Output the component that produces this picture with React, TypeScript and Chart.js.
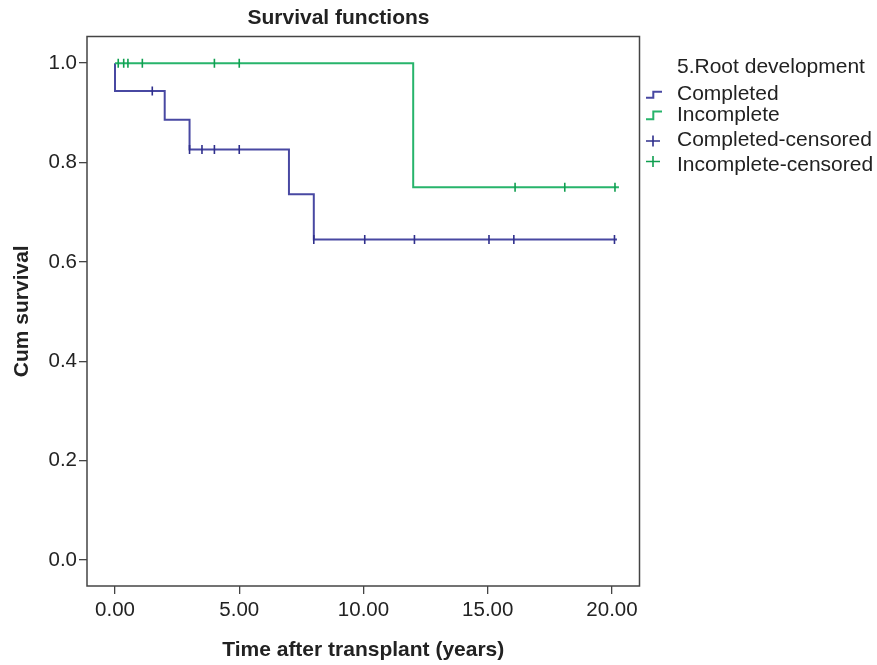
import React, { useEffect, useRef } from "react";
import { Chart, registerables } from "chart.js";

Chart.register(...registerables);

const FONT = "'Liberation Sans', Arial, Helvetica, sans-serif";

const chartTitle = "Survival functions";
const xAxisTitle = "Time after transplant (years)";
const yAxisTitle = "Cum survival";
const legendTitle = "5.Root development";
const seriesNames = ["Completed", "Incomplete", "Completed-censored", "Incomplete-censored"];

const xTicks = [0, 5, 10, 15, 20];
const yTicks = [0, 0.2, 0.4, 0.6, 0.8, 1.0];

// Kaplan-Meier step curves (time, cumulative survival)
const completedTimes = [0, 0, 2, 3, 7, 8, 20.2];
const completedSurvival = [1.0, 0.944, 0.886, 0.826, 0.736, 0.645, 0.645];
const incompleteTimes = [0, 12, 20.28];
const incompleteSurvival = [1.0, 0.75, 0.75];

// Censored observations
const completedCensoredTimes = [1.5, 3, 3.5, 4, 5, 8, 10.05, 12.05, 15.05, 16.05, 20.1];
const completedCensoredSurvival = [0.944, 0.826, 0.826, 0.826, 0.826, 0.645, 0.645, 0.645, 0.645, 0.645, 0.645];
const incompleteCensoredTimes = [0.13, 0.35, 0.52, 1.1, 4, 5, 16.1, 18.1, 20.12];
const incompleteCensoredSurvival = [1, 1, 1, 1, 1, 1, 0.75, 0.75, 0.75];

const blueLine = "#4848a2";
const blueMark = "#2f2f8c";
const greenLine = "#27b46b";
const greenMark = "#109f50";
const textColor = "#222222";
const frameColor = "#444444";

const toPoints = (xs: number[], ys: number[]) => xs.map((x, i) => ({ x, y: ys[i] }));

const framePlugin = {
  id: "frame",
  beforeDatasetsDraw(chart: any) {
    const { ctx, chartArea } = chart;
    ctx.save();
    ctx.strokeStyle = frameColor;
    ctx.lineWidth = 1.5;
    ctx.strokeRect(chartArea.left, chartArea.top, chartArea.right - chartArea.left, chartArea.bottom - chartArea.top);
    ctx.restore();
  },
};

const overlayPlugin = {
  id: "overlay",
  afterDraw(chart: any) {
    const { ctx } = chart;
    ctx.save();
    // title
    ctx.fillStyle = textColor;
    ctx.font = `bold 21px ${FONT}`;
    ctx.textAlign = "center";
    ctx.textBaseline = "alphabetic";
    ctx.fillText(chartTitle, 338.5, 24);

    // legend
    const lx = 677;
    ctx.textAlign = "left";
    ctx.font = `21px ${FONT}`;
    ctx.fillText(legendTitle, lx, 72.7);
    const baselines = [100, 120.7, 146, 170.7];
    seriesNames.forEach((name, i) => ctx.fillText(name, lx, baselines[i]));

    // step icons
    const stepIcon = (color: string, low: number, high: number) => {
      ctx.strokeStyle = color;
      ctx.lineWidth = 2;
      ctx.beginPath();
      ctx.moveTo(646, low);
      ctx.lineTo(653.3, low);
      ctx.lineTo(653.3, high);
      ctx.lineTo(662, high);
      ctx.stroke();
    };
    stepIcon(blueLine, 97.7, 91.7);
    stepIcon(greenLine, 119.3, 111.5);

    const plusIcon = (color: string, cy: number) => {
      ctx.strokeStyle = color;
      ctx.lineWidth = 1.6;
      ctx.beginPath();
      ctx.moveTo(646, cy);
      ctx.lineTo(660, cy);
      ctx.moveTo(653, cy - 5.5);
      ctx.lineTo(653, cy + 5.5);
      ctx.stroke();
    };
    plusIcon(blueMark, 141);
    plusIcon(greenMark, 161.5);
    ctx.restore();
  },
};

export default function App() {
  const canvasRef = useRef<HTMLCanvasElement | null>(null);

  useEffect(() => {
    if (!canvasRef.current) return;
    const chart = new Chart(canvasRef.current, {
      type: "line",
      data: {
        datasets: [
          {
            label: seriesNames[2],
            data: toPoints(completedCensoredTimes, completedCensoredSurvival),
            showLine: false,
            pointStyle: "line",
            rotation: 90,
            pointRadius: 4.5,
            pointHoverRadius: 4.5,
            borderColor: blueMark,
            backgroundColor: blueMark,
            borderWidth: 1.6,
          },
          {
            label: seriesNames[3],
            data: toPoints(incompleteCensoredTimes, incompleteCensoredSurvival),
            showLine: false,
            pointStyle: "line",
            rotation: 90,
            pointRadius: 4.5,
            pointHoverRadius: 4.5,
            borderColor: greenMark,
            backgroundColor: greenMark,
            borderWidth: 1.6,
          },
          {
            label: seriesNames[1],
            data: toPoints(incompleteTimes, incompleteSurvival),
            stepped: true,
            borderColor: greenLine,
            backgroundColor: greenLine,
            borderWidth: 2,
            pointRadius: 0,
            fill: false,
          },
          {
            label: seriesNames[0],
            data: toPoints(completedTimes, completedSurvival),
            stepped: true,
            borderColor: blueLine,
            backgroundColor: blueLine,
            borderWidth: 2,
            pointRadius: 0,
            fill: false,
          },
        ],
      },
      options: {
        animation: false,
        responsive: true,
        maintainAspectRatio: false,
        layout: { padding: { top: 36.5, right: 237.5, left: 0, bottom: 0 } },
        plugins: {
          legend: { display: false },
          title: { display: false },
          tooltip: { enabled: false },
        },
        scales: {
          x: {
            type: "linear",
            min: -1.127,
            max: 21.107,
            afterBuildTicks: (s: any) => {
              s.ticks = xTicks.map((v) => ({ value: v }));
            },
            afterFit: (s: any) => {
              s.height = 79;
            },
            ticks: {
              callback: (v: any) => Number(v).toFixed(2),
              font: { family: FONT, size: 20.5 },
              color: textColor,
              padding: 4,
              maxRotation: 0,
              autoSkip: false,
            },
            grid: { drawOnChartArea: false, drawTicks: true, tickLength: 8, color: frameColor, lineWidth: 1.3 },
            border: { display: false },
            title: {
              display: true,
              text: xAxisTitle,
              font: { family: FONT, size: 21, weight: "bold" },
              color: textColor,
              padding: { top: 0, bottom: 2.4 },
            },
          },
          y: {
            type: "linear",
            min: -0.0523,
            max: 1.0536,
            afterBuildTicks: (s: any) => {
              s.ticks = yTicks.map((v) => ({ value: v }));
            },
            afterFit: (s: any) => {
              s.width = 87;
            },
            ticks: {
              callback: (v: any) => Number(v).toFixed(1),
              font: { family: FONT, size: 20.5 },
              color: textColor,
              padding: 2,
              autoSkip: false,
            },
            grid: { drawOnChartArea: false, drawTicks: true, tickLength: 8, color: frameColor, lineWidth: 1.3 },
            border: { display: false },
            title: {
              display: true,
              text: yAxisTitle,
              font: { family: FONT, size: 21, weight: "bold" },
              color: textColor,
              padding: { top: 9.2, bottom: 0 },
            },
          },
        },
      },
      plugins: [framePlugin, overlayPlugin],
    } as any);
    return () => chart.destroy();
  }, []);

  return (
    <div style={{ position: "absolute", left: 0, top: 0, width: 877, height: 665, background: "#fff" }}>
      <canvas ref={canvasRef} />
    </div>
  );
}
